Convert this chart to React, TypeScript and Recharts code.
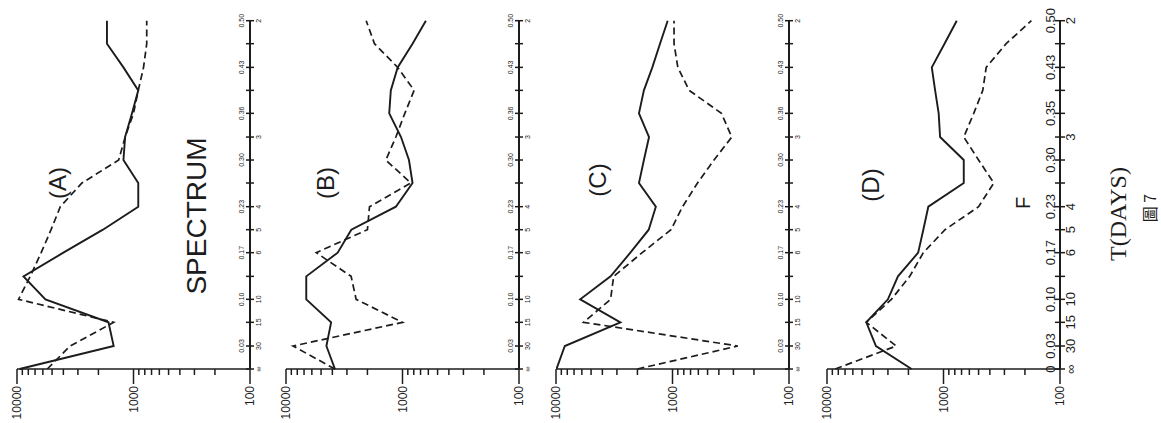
import React from 'react'
import { LineChart, Line, XAxis, YAxis } from 'recharts'

// frequency (cycles/day) at each spectral estimate, bottom to top
const freqs = [0, 0.033, 0.067, 0.1, 0.133, 0.167, 0.2, 0.233, 0.267, 0.3, 0.333, 0.367, 0.4, 0.433, 0.467, 0.5]
const freqLabels = ['', '0.03', '', '0.10', '', '0.17', '', '0.23', '', '0.30', '', '0.36', '', '0.43', '', '0.50']
const freqLabelsD = ['0', '0.03', '', '0.10', '', '0.17', '', '0.23', '', '0.30', '', '0.35', '', '0.43', '', '0.50']
const periodLabels = ['∞', '30', '15', '10', '', '6', '5', '4', '', '', '3', '', '', '', '', '2']

const spectrumTicks = [100, 200, 300, 400, 500, 600, 700, 800, 900, 1000, 2000, 3000, 4000, 5000, 6000, 7000, 8000, 9000, 10000]
const majorTicks = [100, 1000, 10000]

// spectral density, one value per frequency
const solidA = [9500, 1480, 1640, 5700, 8800, 4000, 1830, 910, 910, 1220, 1180, 1030, 910, 1220, 1690, 1690]
const dashedA = [5500, 3500, 1480, 9700, 7700, 6200, 5100, 4250, 2770, 1340, 1180, 1000, 910, 820, 770, 770]
const solidB = [3800, 4500, 4100, 6700, 6700, 3600, 2750, 1140, 820, 880, 1030, 1300, 1260, 1100, 820, 630]
const dashedB = [3800, 8700, 1000, 2500, 2760, 5500, 2000, 1920, 850, 1390, 1140, 955, 795, 1100, 1740, 2050]
const solidC = [9900, 8400, 2800, 6200, 3400, 2300, 1600, 1390, 1940, 1760, 1590, 1940, 1760, 1490, 1280, 1100]
const dashedC = [2000, 275, 5800, 3400, 3200, 1820, 1030, 820, 610, 440, 310, 380, 720, 900, 970, 970]
const solidD = [1880, 3800, 4600, 3000, 2460, 1650, 1490, 1350, 670, 670, 1070, 1100, 1180, 1260, 980, 770]
const dashedD = [8500, 2550, 4600, 2800, 1950, 1490, 970, 500, 370, 500, 670, 550, 460, 430, 290, 176]

const ink = '#1c1c1c'
const sans = 'Liberation Sans, Arial, sans-serif'

const panels = [
    { key: 'A', left: 17, solid: solidA, dashed: dashedA },
    { key: 'B', left: 286, solid: solidB, dashed: dashedB },
    { key: 'C', left: 556, solid: solidC, dashed: dashedC },
    { key: 'D', left: 827, solid: solidD, dashed: dashedD },
]

const PLOT_W = 233
const PAD_L = 12
const CHART_W = 305

function SpectrumTick(props: any) {
    const { x, y, payload } = props
    const v = payload.value
    const major = majorTicks.includes(v)
    const tx = x + 4
    const ty = y + 17
    return (
        <g>
            <line x1={x} y1={y} x2={x} y2={y + (major ? 15 : 6)} stroke={ink} strokeWidth={1.5} />
            {major && (
                <text x={tx} y={ty} transform={`rotate(-90 ${tx} ${ty})`} textAnchor="end"
                    fontSize={12} fontFamily={sans} fill={ink}>{v}</text>
            )}
        </g>
    )
}

function makeFreqTick(big: boolean) {
    return function FreqTick(props: any) {
        const { x, y, payload } = props
        const i = freqs.indexOf(payload.value)
        const fl = (big ? freqLabelsD : freqLabels)[i] || ''
        const pl = periodLabels[i] || ''
        const fs = big ? 13 : 7
        const half = big ? 5 : 4
        const fx = big ? x - 5 : x - 6
        const px = big ? x + 15 : x + 11
        return (
            <g>
                <line x1={x - half} y1={y} x2={x + half} y2={y} stroke={ink} strokeWidth={1.5} />
                {fl && (
                    <text x={fx} y={y} transform={`rotate(-90 ${fx} ${y})`} textAnchor="middle"
                        fontSize={fs} fontFamily={sans} fill={ink}>{fl}</text>
                )}
                {pl && (
                    <text x={px} y={y} transform={`rotate(-90 ${px} ${y})`} textAnchor="middle"
                        fontSize={fs} fontFamily={sans} fill={ink}>{pl}</text>
                )}
            </g>
        )
    }
}

function Panel({ p }: { p: typeof panels[number] }) {
    const data = freqs.map((f, i) => ({ f, solid: p.solid[i], dashed: p.dashed[i] }))
    const big = p.key === 'D'
    return (
        <div style={{ position: 'absolute', left: p.left - PAD_L, top: 0 }}>
            <LineChart width={CHART_W} height={423} data={data} layout="vertical"
                margin={{ top: 20.7, right: CHART_W - PAD_L - PLOT_W - 50, bottom: 4, left: PAD_L }}>
                <XAxis type="number" dataKey="solid" scale="log" domain={[100, 10000]} reversed
                    allowDataOverflow ticks={spectrumTicks} interval={0} height={50}
                    tickSize={0} tickMargin={0} tick={<SpectrumTick />}
                    axisLine={{ stroke: ink, strokeWidth: 1.6 }} />
                <YAxis type="number" dataKey="f" orientation="right" domain={[0, 0.5]} reversed
                    ticks={freqs} interval={0} width={50} tickSize={0} tickMargin={0}
                    tick={makeFreqTick(big)} axisLine={{ stroke: ink, strokeWidth: 2 }} />
                <Line type="linear" dataKey="solid" stroke={ink} strokeWidth={1.9} dot={false} isAnimationActive={false} />
                <Line type="linear" dataKey="dashed" stroke={ink} strokeWidth={1.7} strokeDasharray="7 4" dot={false} isAnimationActive={false} />
            </LineChart>
        </div>
    )
}

function VText({ cx, cy, size, family, children }: any) {
    return (
        <text x={cx} y={cy} transform={`rotate(-90 ${cx} ${cy})`} textAnchor="middle"
            dominantBaseline="central" fontSize={size} fontFamily={family || sans} fill={ink}>
            {children}
        </text>
    )
}

export default function App() {
    return (
        <div style={{ position: 'absolute', left: 0, top: 0, width: 1161, height: 423, background: '#fff', overflow: 'hidden' }}>
            {panels.map(p => <Panel key={p.key} p={p} />)}
            <svg width={1161} height={423} style={{ position: 'absolute', left: 0, top: 0, pointerEvents: 'none' }}>
                <VText cx={57} cy={183} size={24}>(A)</VText>
                <VText cx={196} cy={216} size={28}>SPECTRUM</VText>
                <VText cx={325} cy={183} size={24}>(B)</VText>
                <VText cx={597} cy={180} size={24}>(C)</VText>
                <VText cx={870} cy={185} size={24}>(D)</VText>
                <VText cx={1023} cy={203} size={20}>F</VText>
                <VText cx={1118} cy={214} size={24} family="Liberation Serif, Times New Roman, serif">T(DAYS)</VText>
                <VText cx={1149} cy={208} size={16} family="Noto Sans CJK TC, serif">圖  7</VText>
            </svg>
        </div>
    )
}
